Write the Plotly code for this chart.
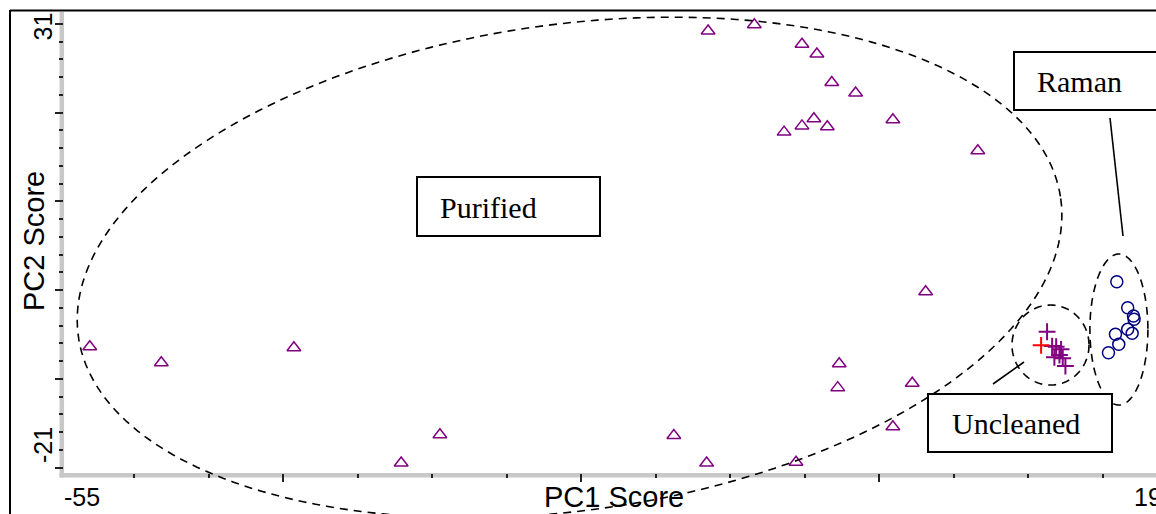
import numpy as np
import plotly.graph_objects as go

# ---------------- data ----------------
purified_x = [-53.0, -48.2, -39.3, -32.1, -29.5, -13.8, -11.6, -5.6, -11.5, -8.4,
              -5.2, -4.2, -3.2, -1.6, -6.4, -5.2, -4.4, -3.5, 0.9, 6.6,
              3.1, -2.7, -2.8, 2.2, 0.9]
purified_y = [-6.4, -8.2, -6.5, -19.5, -16.3, -16.4, -19.5, -19.4, 29.2, 29.9,
              27.7, 26.6, 23.4, 22.2, 17.8, 18.5, 19.3, 18.4, 19.2, 15.7,
              -0.2, -8.3, -11.0, -10.5, -15.4]
uncleaned_x = [11.25, 11.59, 11.86, 12.19, 11.74, 12.08, 12.30, 12.48]
uncleaned_y = [-4.70, -6.31, -6.39, -6.68, -7.58, -7.32, -7.70, -8.56]
uncleaned_red_x = [10.85]
uncleaned_red_y = [-6.23]
raman_x = [15.93, 16.66, 17.05, 17.09, 16.66, 16.96, 15.84, 16.06, 15.37]
raman_y = [0.94, -1.99, -2.93, -3.30, -4.43, -4.88, -4.99, -6.12, -7.06]
x_tick_labels = ["-55", "19"]
y_tick_labels = ["31", "-21"]
group_labels = ["Purified", "Raman", "Uncleaned"]

# ---------------- geometry ----------------
W, H = 1156, 514
L, R, T, B = 64, 0, 15, 41
PW, PH = W - L - R, H - T - B
X_RANGE = [-54.73, 18.56]
Y_RANGE = [-20.62, 31.0]


def px(x):
    return L + (x - X_RANGE[0]) / (X_RANGE[1] - X_RANGE[0]) * PW


def py(y):
    return T + (Y_RANGE[1] - y) / (Y_RANGE[1] - Y_RANGE[0]) * PH


def pap_x(p):
    return (p - L) / PW


def pap_y(p):
    return (H - B - p) / PH


def ellipse_path(cx, cy, a, b, ang_deg, n=240):
    """cx, cy in data units; a, b semi-axes in pixels; angle in screen degrees."""
    c0x, c0y = px(cx), py(cy)
    phi = np.deg2rad(ang_deg)
    t = np.linspace(0, 2 * np.pi, n)
    xs = c0x + a * np.cos(t) * np.cos(phi) - b * np.sin(t) * np.sin(phi)
    ys = c0y + a * np.cos(t) * np.sin(phi) + b * np.sin(t) * np.cos(phi)
    pts = ["%.5f,%.5f" % (pap_x(x), pap_y(y)) for x, y in zip(xs, ys)]
    return "M" + " L".join(pts) + " Z"


fig = go.Figure()

fig.add_trace(go.Scatter(
    x=purified_x, y=purified_y, mode="markers", name="Purified",
    marker=dict(symbol="triangle-up-open", size=12, color="#800080",
                line=dict(width=1.5, color="#800080")),
    cliponaxis=False))
fig.add_trace(go.Scatter(
    x=uncleaned_x, y=uncleaned_y, mode="markers", name="Uncleaned",
    marker=dict(symbol="cross-thin-open", size=12, color="#800080",
                line=dict(width=2, color="#800080"))))
fig.add_trace(go.Scatter(
    x=uncleaned_red_x, y=uncleaned_red_y, mode="markers", name="Uncleaned",
    marker=dict(symbol="cross-thin-open", size=12, color="#ff0000",
                line=dict(width=2, color="#ff0000"))))
fig.add_trace(go.Scatter(
    x=raman_x, y=raman_y, mode="markers", name="Raman",
    marker=dict(symbol="circle-open", size=12, color="#000080",
                line=dict(width=1.5, color="#000080"))))

shapes = []
# frame lines (top and left)
shapes.append(dict(type="line", xref="paper", yref="paper",
                   x0=pap_x(10), x1=pap_x(W + 5), y0=pap_y(10.5), y1=pap_y(10.5),
                   line=dict(color="black", width=2)))
shapes.append(dict(type="line", xref="paper", yref="paper",
                   x0=pap_x(10), x1=pap_x(10), y0=pap_y(10), y1=pap_y(H + 5),
                   line=dict(color="black", width=2)))
# axis bars (grey)
shapes.append(dict(type="line", xref="paper", yref="paper", layer="below",
                   x0=pap_x(59.5), x1=pap_x(W + 5), y0=pap_y(475.2), y1=pap_y(475.2),
                   line=dict(color="#c8c8c8", width=4.5)))
shapes.append(dict(type="line", xref="paper", yref="paper", layer="below",
                   x0=pap_x(61.8), x1=pap_x(61.8), y0=pap_y(12), y1=pap_y(477.5),
                   line=dict(color="#c8c8c8", width=4.5)))

# ellipses
dash = "8px,6px"
shapes.append(dict(type="path", xref="paper", yref="paper",
                   path=ellipse_path(-20.8, 2.54, 496, 243, -8),
                   line=dict(color="black", width=1.6, dash=dash)))
shapes.append(dict(type="path", xref="paper", yref="paper",
                   path=ellipse_path(11.48, -6.2, 38.5, 40, 0),
                   line=dict(color="black", width=1.6, dash=dash)))
shapes.append(dict(type="path", xref="paper", yref="paper",
                   path=ellipse_path(16.07, -4.45, 29, 75.5, 0),
                   line=dict(color="black", width=1.6, dash=dash)))

# connector lines
shapes.append(dict(type="line", xref="paper", yref="paper",
                   x0=pap_x(1110), y0=pap_y(118), x1=pap_x(1123), y1=pap_y(236),
                   line=dict(color="black", width=1.6)))
shapes.append(dict(type="line", xref="paper", yref="paper",
                   x0=pap_x(993), y0=pap_y(384), x1=pap_x(1024), y1=pap_y(362),
                   line=dict(color="black", width=1.6)))

# label boxes
boxes = [(417, 177, 600, 236), (1014, 52, 1162, 110), (928, 394, 1112, 452)]
for (x0, y0, x1, y1) in boxes:
    shapes.append(dict(type="rect", xref="paper", yref="paper",
                       x0=pap_x(x0), x1=pap_x(x1), y0=pap_y(y0), y1=pap_y(y1),
                       line=dict(color="black", width=2), fillcolor="white"))

annotations = []
text_pos = [(438, 207), (1035, 81), (950, 423)]
for lab, (tx, ty) in zip(group_labels, text_pos):
    annotations.append(dict(text=lab, xref="paper", yref="paper",
                            x=pap_x(tx), y=pap_y(ty), xanchor="left", yanchor="middle",
                            showarrow=False,
                            font=dict(family="Liberation Serif", size=30, color="black")))

sans = "Liberation Sans"
annotations.append(dict(text=x_tick_labels[0], xref="paper", yref="paper",
                        x=pap_x(62), y=pap_y(497), xanchor="left", yanchor="middle",
                        showarrow=False, font=dict(family=sans, size=25, color="black")))
annotations.append(dict(text=x_tick_labels[1], xref="paper", yref="paper",
                        x=pap_x(1164), y=pap_y(497), xanchor="right", yanchor="middle",
                        showarrow=False, font=dict(family=sans, size=25, color="black")))
annotations.append(dict(text=y_tick_labels[0], xref="paper", yref="paper",
                        x=pap_x(43), y=pap_y(26.5), xanchor="center", yanchor="middle",
                        textangle=-90, showarrow=False,
                        font=dict(family=sans, size=25, color="black")))
annotations.append(dict(text=y_tick_labels[1], xref="paper", yref="paper",
                        x=pap_x(43), y=pap_y(445), xanchor="center", yanchor="middle",
                        textangle=-90, showarrow=False,
                        font=dict(family=sans, size=25, color="black")))
annotations.append(dict(text="PC1 Score", xref="paper", yref="paper",
                        x=pap_x(614), y=pap_y(497), xanchor="center", yanchor="middle",
                        showarrow=False, font=dict(family=sans, size=29, color="black")))
annotations.append(dict(text="PC2 Score", xref="paper", yref="paper",
                        x=pap_x(34), y=pap_y(241), xanchor="center", yanchor="middle",
                        textangle=-90, showarrow=False,
                        font=dict(family=sans, size=29, color="black")))

axis_common = dict(showgrid=False, zeroline=False, showline=False,
                   showticklabels=False, ticks="outside", ticklen=8,
                   tickwidth=1.5, tickcolor="#222222")
fig.update_layout(
    width=W, height=H,
    margin=dict(l=L, r=R, t=T, b=B, pad=0),
    paper_bgcolor="white", plot_bgcolor="white",
    showlegend=False,
    xaxis=dict(range=X_RANGE, tickmode="array", tickvals=[-40, -20, 0],
               minor=dict(tickmode="linear", tick0=-55, dtick=5, ticks="outside",
                          ticklen=4, tickwidth=1.5, tickcolor="#222222"),
               **axis_common),
    yaxis=dict(range=Y_RANGE, tickmode="array", tickvals=[-20, -10, 0, 10, 20, 30],
               minor=dict(tickmode="linear", tick0=-20, dtick=2, ticks="outside",
                          ticklen=4, tickwidth=1.5, tickcolor="#222222"),
               **axis_common),
    shapes=shapes,
    annotations=annotations,
)

fig.write_html("out.html")
